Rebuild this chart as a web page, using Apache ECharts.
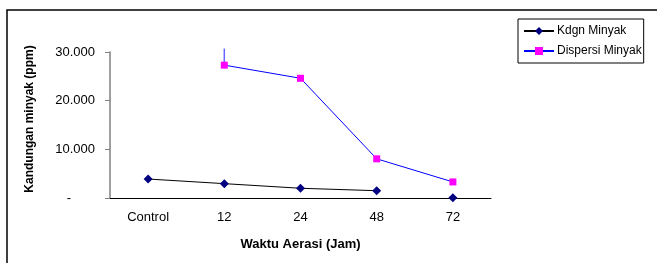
<!DOCTYPE html>
<html>
<head>
<meta charset="utf-8">
<script src="https://cdn.jsdelivr.net/npm/echarts@6/dist/echarts.min.js"></script>
<style>
  html, body { margin: 0; padding: 0; background: #fff; }
  #main { width: 657px; height: 263px; }
</style>
</head>
<body>
<div id="main"></div>
<script>
const chart = echarts.init(document.getElementById('main'));

const categories = ['Control', '12', '24', '48', '72'];
const kdgnMinyak = [3900, 2950, 2000, 1500, 50];
const dispersiMinyak = [null, 27300, 24600, 8050, 3300];
// short vertical stub rising above the 12 point: [category index, from, to]
const dispersiStub = [[1, 27300, 30700]];
const yTicks = [0, 10000, 20000, 30000];

function fmtTick(v) {
  if (v === 0) return '{dash|-}';
  return (v / 1000) + '.000';
}

// the last Kdgn point sits on its own, no line to it
const kdgnLine = kdgnMinyak.map((v, i) => (i < 4 ? v : null));
const kdgnLone = kdgnMinyak.map((v, i) => (i === 4 ? v : null));

chart.setOption({
  animation: false,
  textStyle: { fontFamily: 'Liberation Sans, Arial, sans-serif' },
  grid: { left: 110, right: 166, top: 52, bottom: 65 },
  graphic: [
    {
      type: 'polyline',
      shape: { points: [[7, 263], [7, 10], [657, 10]] },
      style: { stroke: '#000', lineWidth: 1.5, fill: null }
    }
  ],
  legend: {
    orient: 'vertical',
    left: 518,
    top: 19,
    data: ['Kdgn Minyak', 'Dispersi Minyak'],
    itemWidth: 30,
    itemHeight: 10,
    itemGap: 8,
    padding: [6, 2, 6, 5],
    borderColor: '#000',
    borderWidth: 1,
    borderRadius: 0,
    textStyle: { fontSize: 12, color: '#000', padding: [0, 0, 0, -2] }
  },
  xAxis: {
    type: 'category',
    data: categories,
    boundaryGap: true,
    name: 'Waktu Aerasi (Jam)',
    nameLocation: 'middle',
    nameGap: 40,
    nameTextStyle: { fontSize: 13, fontWeight: 'bold', color: '#000' },
    axisLine: { lineStyle: { color: '#000', width: 1 } },
    axisTick: { length: 5, lineStyle: { color: '#000' } },
    axisLabel: { fontSize: 13, color: '#000', margin: 13 }
  },
  yAxis: {
    type: 'value',
    min: yTicks[0],
    max: yTicks[yTicks.length - 1],
    interval: 10000,
    name: 'Kandungan minyak (ppm)',
    nameLocation: 'middle',
    nameRotate: 90,
    nameGap: 74,
    nameTextStyle: { fontSize: 12, fontWeight: 'bold', color: '#000', padding: [0, 0, 0, 12] },
    axisLine: { show: true, lineStyle: { color: '#808080', width: 1.5 } },
    axisTick: { show: true, length: 5, lineStyle: { color: '#808080' } },
    splitLine: { show: false },
    axisLabel: {
      fontSize: 13,
      color: '#000',
      margin: 15,
      formatter: fmtTick,
      rich: { dash: { fontSize: 13, color: '#000', padding: [0, 24, 0, 0] } }
    }
  },
  series: [
    {
      name: 'Stub',
      type: 'custom',
      data: dispersiStub,
      clip: false,
      silent: true,
      z: 1,
      renderItem: function (params, api) {
        const a = api.coord([api.value(0), api.value(1)]);
        const b = api.coord([api.value(0), api.value(2)]);
        return {
          type: 'line',
          shape: { x1: a[0], y1: a[1], x2: b[0], y2: b[1] },
          style: { stroke: '#6666FF', lineWidth: 1.5 }
        };
      }
    },
    {
      name: 'Kdgn Minyak',
      type: 'line',
      data: kdgnLine,
      symbol: 'diamond',
      symbolSize: 9,
      itemStyle: { color: '#000080' },
      lineStyle: { color: '#000', width: 1 },
      connectNulls: false
    },
    {
      name: 'Kdgn Lone',
      type: 'line',
      data: kdgnLone,
      symbol: 'diamond',
      symbolSize: 9,
      itemStyle: { color: '#000080' },
      lineStyle: { width: 0 }
    },
    {
      name: 'Dispersi Minyak',
      type: 'line',
      data: dispersiMinyak,
      symbol: 'rect',
      symbolSize: 7,
      itemStyle: { color: '#FF00FF' },
      lineStyle: { color: '#0000FF', width: 1 }
    }
  ]
});
</script>
</body>
</html>
